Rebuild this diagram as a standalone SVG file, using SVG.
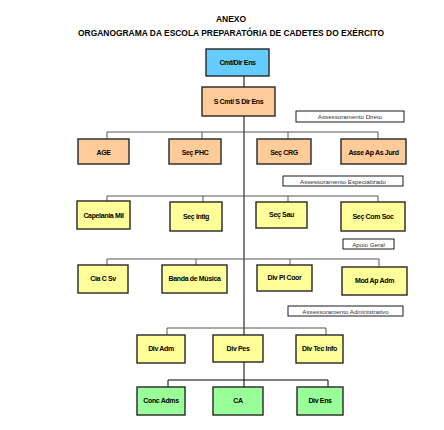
<svg xmlns="http://www.w3.org/2000/svg" width="444" height="430" viewBox="0 0 444 430">
<style>
.bx{stroke:#262626;stroke-width:1.4}
.blue{fill:#66CCFF}.peach{fill:#FFCC99}.yel{fill:#FFFF99}.grn{fill:#99FF99}
.t{font-family:"Liberation Sans",Arial,sans-serif;font-weight:bold;font-size:7px;fill:#000;text-anchor:middle;letter-spacing:-0.35px}
.lb{fill:#fff;stroke:#000;stroke-width:0.9}
.lt{font-family:"Liberation Sans",Arial,sans-serif;font-size:6.2px;fill:#333;text-anchor:middle}
.ttl{font-family:"Liberation Sans",Arial,sans-serif;font-weight:bold;font-size:8.3px;fill:#000;text-anchor:middle}
.c{stroke:#000;stroke-width:1;fill:none}
.c2{stroke:#555;stroke-width:1;fill:none}
</style>
<rect width="444" height="430" fill="#fff"/>
<text class="ttl" x="231" y="22" textLength="30" lengthAdjust="spacingAndGlyphs">ANEXO</text>
<text class="ttl" x="231" y="36" textLength="306" lengthAdjust="spacingAndGlyphs">ORGANOGRAMA DA ESCOLA PREPARATÓRIA DE CADETES DO EXÉRCITO</text>
<g id="connectors">
<line class="c" x1="244" y1="76" x2="244" y2="387"/>
<polyline class="c2" points="107,139 107,132 378,132 378,139"/>
<line class="c2" x1="202" y1="132" x2="202" y2="139"/>
<line class="c2" x1="288" y1="132" x2="288" y2="139"/>
<polyline class="c2" points="107,201 107,196 378,196 378,202"/>
<line class="c2" x1="203" y1="196" x2="203" y2="202"/>
<line class="c2" x1="288" y1="196" x2="288" y2="202"/>
<polyline class="c2" points="107,265 107,259 379,259 379,267"/>
<line class="c2" x1="196" y1="259" x2="196" y2="265"/>
<line class="c2" x1="290" y1="259" x2="290" y2="265"/>
<polyline class="c2" points="167,335 167,328 326,328 326,335"/>
<polyline class="c" points="168,387 168,380 328,380 328,387"/>
</g>
<g id="cmt"><rect class="bx blue" x="206" y="49" width="63" height="27"/><text class="t" x="237.5" y="65">Cmt/Dir Ens</text></g>
<g id="scmt"><rect class="bx peach" x="202" y="87" width="73" height="29"/><text class="t" x="238.5" y="104">S Cmt/ S Dir Ens</text></g>
<g id="lbl-direto"><rect class="lb" x="296" y="111" width="108" height="11"/><text class="lt" x="350" y="119">Assessoramento Direto</text></g>
<g id="age"><rect class="bx peach" x="78" y="139" width="51" height="25"/><text class="t" x="103.5" y="154.5">AGE</text></g>
<g id="secphc"><rect class="bx peach" x="169" y="139" width="52" height="25"/><text class="t" x="195" y="154.5">Seç PHC</text></g>
<g id="seccrg"><rect class="bx peach" x="257" y="139" width="54" height="25"/><text class="t" x="284" y="154.5">Seç CRG</text></g>
<g id="asse"><rect class="bx peach" x="341" y="139" width="65" height="25"/><text class="t" x="373.5" y="154.5">Asse Ap As Jurd</text></g>
<g id="lbl-espec"><rect class="lb" x="283" y="176" width="120" height="10"/><text class="lt" x="343" y="183.5">Assessoramento Especializado</text></g>
<g id="capelania"><rect class="bx yel" x="77" y="201" width="53" height="28"/><text class="t" x="103.5" y="217.5">Capelania Mil</text></g>
<g id="secintig"><rect class="bx yel" x="170" y="202" width="52" height="29"/><text class="t" x="196" y="219">Seç Intig</text></g>
<g id="secsau"><rect class="bx yel" x="256" y="202" width="51" height="26"/><text class="t" x="281.5" y="217">Seç Sau</text></g>
<g id="seccomsoc"><rect class="bx yel" x="341" y="202" width="64" height="29"/><text class="t" x="373" y="219">Seç Com Soc</text></g>
<g id="lbl-apoio"><rect class="lb" x="343" y="239" width="51" height="10"/><text class="lt" x="368.5" y="246.5">Apoio Geral</text></g>
<g id="ciacsv"><rect class="bx yel" x="78" y="265" width="50" height="28"/><text class="t" x="103" y="281">Cia C Sv</text></g>
<g id="banda"><rect class="bx yel" x="162" y="265" width="65" height="28"/><text class="t" x="194.5" y="281">Banda de Música</text></g>
<g id="divplcoor"><rect class="bx yel" x="257" y="265" width="55" height="26"/><text class="t" x="284.5" y="280">Div Pl Coor</text></g>
<g id="modapadm"><rect class="bx yel" x="342" y="267" width="65" height="28"/><text class="t" x="374.5" y="283">Mod Ap Adm</text></g>
<g id="lbl-adm"><rect class="lb" x="288" y="306" width="115" height="10"/><text class="lt" x="345.5" y="313.5">Assessoramento Administrativo</text></g>
<g id="divadm"><rect class="bx yel" x="137" y="335" width="48" height="28"/><text class="t" x="161" y="351">Div Adm</text></g>
<g id="divpes"><rect class="bx yel" x="213" y="335" width="50" height="27"/><text class="t" x="238" y="351">Div Pes</text></g>
<g id="divtecinfo"><rect class="bx yel" x="296" y="335" width="47" height="28"/><text class="t" x="319.5" y="351">Div Tec Info</text></g>
<g id="concadms"><rect class="bx grn" x="137" y="387" width="48" height="28"/><text class="t" x="161" y="403">Conc Adms</text></g>
<g id="ca"><rect class="bx grn" x="213" y="387" width="50" height="28"/><text class="t" x="238" y="403">CA</text></g>
<g id="divens"><rect class="bx grn" x="297" y="387" width="46" height="28"/><text class="t" x="320" y="403">Div Ens</text></g>
</svg>
